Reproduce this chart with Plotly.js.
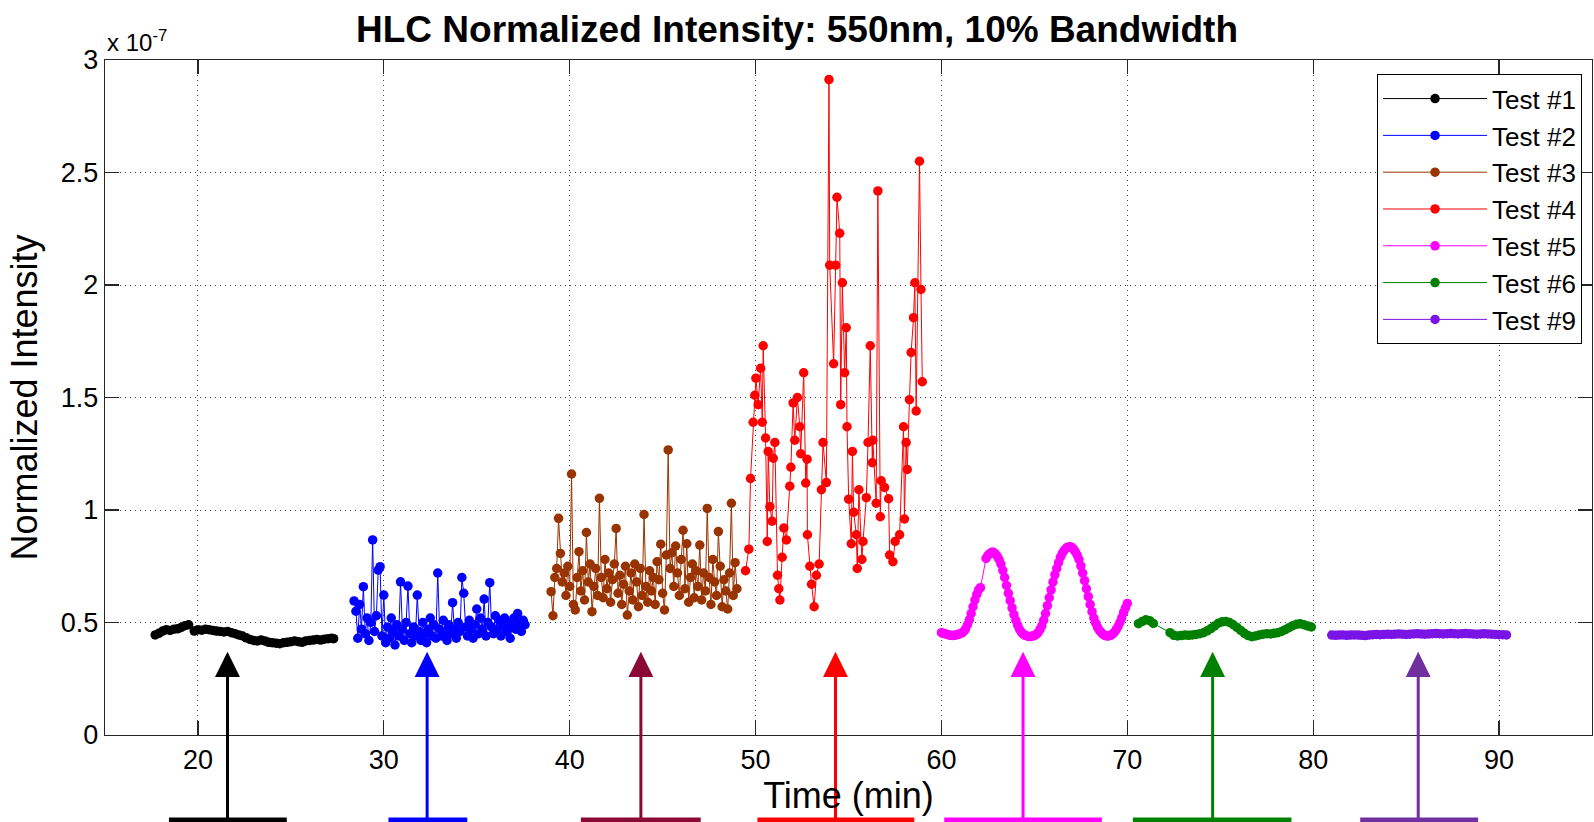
<!DOCTYPE html>
<html>
<head>
<meta charset="utf-8">
<script src="https://cdn.plot.ly/plotly-3.0.1.min.js"></script>
<style>html,body{margin:0;padding:0;background:#fff;}#chart{width:1594px;height:822px;}</style>
</head>
<body>
<div id="chart"></div>
<script>
// ---------- DATA (intensity values in units of 1e-7) ----------
const seriesNames = ['Test #1','Test #2','Test #3','Test #4','Test #5','Test #6','Test #9'];
const seriesColors = ['#000000','#0000ff','#993300','#ff0000','#ff00ff','#008000','#7a14e6'];

const tTest1 = [17.7,17.9,18.1,18.3,18.5,18.7,18.9,19.1,19.3,19.5,19.8,20.0,20.2,20.4,20.6,20.8,21.0,21.2,21.4,21.6,21.8,22.0,22.2,22.4,22.6,22.8,23.0,23.2,23.4,23.6,23.8,24.0,24.2,24.4,24.6,24.8,25.0,25.2,25.4,25.6,25.8,26.0,26.2,26.4,26.6,26.8,27.0,27.2,27.3];
const vTest1 = [0.445,0.452,0.462,0.468,0.465,0.470,0.472,0.478,0.486,0.490,0.462,0.468,0.466,0.470,0.468,0.465,0.462,0.460,0.458,0.460,0.455,0.450,0.445,0.440,0.432,0.425,0.420,0.418,0.422,0.418,0.412,0.410,0.408,0.406,0.410,0.412,0.415,0.418,0.415,0.412,0.418,0.420,0.422,0.425,0.422,0.426,0.428,0.430,0.428];

const tTest2 = [28.4,28.5,28.6,28.7,28.8,28.9,29.0,29.1,29.2,29.3,29.4,29.5,29.6,29.7,29.8,29.9,
  30.0,30.1,30.2,30.3,30.4,30.5,30.6,30.7,30.8,30.9,
  31.0,31.1,31.2,31.3,31.4,31.5,31.6,31.7,31.8,31.9,
  32.0,32.1,32.2,32.3,32.4,32.5,32.6,32.7,32.8,32.9,
  33.0,33.1,33.2,33.3,33.4,33.5,33.6,33.7,33.8,33.9,
  34.0,34.1,34.2,34.3,34.4,34.5,34.6,34.7,34.8,34.9,
  35.0,35.1,35.2,35.3,35.4,35.5,35.6,35.7,35.8,35.9,
  36.0,36.1,36.2,36.3,36.4,36.5,36.6,36.7,36.8,36.9,
  37.0,37.1,37.2,37.3,37.4,37.5,37.6];
const vTest2 = [0.596,0.55,0.43,0.58,0.47,0.659,0.45,0.52,0.42,0.50,0.867,0.46,0.53,0.733,0.748,0.44,
  0.622,0.41,0.48,0.43,0.52,0.46,0.40,0.49,0.44,0.681,
  0.47,0.42,0.50,0.662,0.45,0.41,0.48,0.44,0.622,0.46,
  0.42,0.50,0.45,0.41,0.47,0.52,0.44,0.49,0.43,0.72,
  0.47,0.44,0.51,0.46,0.42,0.49,0.45,0.588,0.47,0.43,
  0.50,0.46,0.70,0.63,0.48,0.44,0.51,0.47,0.43,0.49,
  0.56,0.45,0.52,0.47,0.604,0.44,0.50,0.677,0.48,0.45,
  0.53,0.47,0.51,0.44,0.49,0.52,0.46,0.50,0.43,0.48,
  0.52,0.47,0.54,0.50,0.46,0.51,0.49];

const tTest3 = [39.0,39.1,39.2,39.3,39.4,39.5,39.6,39.7,39.8,39.9,
  40.0,40.1,40.2,40.3,40.4,40.5,40.6,40.7,40.8,40.9,
  41.0,41.1,41.2,41.3,41.4,41.5,41.6,41.7,41.8,41.9,
  42.0,42.1,42.2,42.3,42.4,42.5,42.6,42.7,42.8,42.9,
  43.0,43.1,43.2,43.3,43.4,43.5,43.6,43.7,43.8,43.9,
  44.0,44.1,44.2,44.3,44.4,44.5,44.6,44.7,44.8,44.9,
  45.0,45.1,45.2,45.3,45.4,45.5,45.6,45.7,45.8,45.9,
  46.0,46.1,46.2,46.3,46.4,46.5,46.6,46.7,46.8,46.9,
  47.0,47.1,47.2,47.3,47.4,47.5,47.6,47.7,47.8,47.9,
  48.0,48.1,48.2,48.3,48.4,48.5,48.6,48.7,48.8,48.9,49.0];
const vTest3 = [0.637,0.530,0.70,0.74,0.963,0.807,0.68,0.72,0.62,0.75,
  0.66,1.16,0.58,0.556,0.70,0.815,0.64,0.73,0.60,0.90,
  0.68,0.76,0.548,0.66,0.74,0.62,1.052,0.70,0.61,0.78,
  0.65,0.72,0.59,0.69,0.76,0.918,0.63,0.71,0.58,0.67,
  0.75,0.533,0.64,0.72,0.60,0.76,0.68,0.57,0.74,0.62,
  0.98,0.66,0.59,0.73,0.64,0.70,0.58,0.77,0.69,0.848,
  0.63,0.556,0.80,1.267,0.74,0.81,0.66,0.84,0.72,0.62,
  0.78,0.91,0.65,0.85,0.59,0.70,0.76,0.61,0.73,0.66,
  0.844,0.60,0.72,0.64,1.007,0.70,0.58,0.78,0.68,0.62,
  0.904,0.75,0.57,0.69,0.64,0.56,0.72,1.03,0.62,0.766,0.65];

const tTest4 = [49.46,49.64,49.73,49.87,49.96,50.02,50.14,50.27,50.36,50.41,50.54,50.63,50.68,50.77,50.89,50.95,
  51.04,51.18,51.25,51.31,51.43,51.52,51.66,51.84,51.90,52.02,52.11,52.25,52.38,52.43,52.59,52.70,52.77,52.79,52.92,
  53.01,53.15,53.27,53.42,53.54,53.63,53.81,53.95,53.99,54.20,54.31,54.38,54.53,54.58,54.67,54.79,54.88,54.92,
  55.01,55.15,55.21,55.28,55.42,55.47,55.56,55.72,55.78,55.96,56.05,56.17,56.28,56.31,56.49,56.58,56.71,56.76,56.94,
  57.16,57.21,57.39,57.51,57.75,57.96,58.01,58.10,58.16,58.28,58.37,58.50,58.57,58.64,58.82,58.90,58.97];
const vTest4 = [0.73,0.826,1.14,1.39,1.51,1.586,1.468,1.63,1.39,1.73,1.32,0.86,1.26,1.015,0.95,1.23,
  1.30,0.71,0.65,0.60,0.79,0.92,0.867,1.106,1.19,1.476,1.31,1.50,1.37,1.25,1.61,1.12,1.226,0.89,0.75,
  0.67,0.57,0.71,0.76,1.09,1.30,1.122,2.913,2.088,1.65,2.088,2.39,2.23,1.468,2.01,1.61,1.81,1.37,
  1.048,0.85,1.26,0.99,0.89,0.74,1.09,0.78,0.86,1.055,1.30,1.73,1.21,1.31,1.03,2.418,0.97,1.13,1.10,
  1.05,0.80,0.77,0.86,0.89,1.37,0.96,1.30,1.18,1.49,1.70,1.855,2.01,1.44,2.55,1.98,1.57];

const tTest5 = [60.0,60.1,60.2,60.3,60.4,60.5,60.6,60.7,60.8,60.9,61.0,61.1,61.2,61.3,61.4,61.5,61.6,61.7,61.8,61.9,62.0,62.1,
  62.4,62.5,62.6,62.7,62.8,62.9,63.0,63.1,63.2,63.3,63.4,63.5,63.6,63.7,63.8,63.9,
  64.0,64.1,64.2,64.3,64.4,64.5,64.6,64.7,64.8,64.9,65.0,65.1,65.2,65.3,65.4,65.5,65.6,65.7,65.8,65.9,
  66.0,66.1,66.2,66.3,66.4,66.5,66.6,66.7,66.8,66.9,67.0,67.1,67.2,67.3,67.4,67.5,67.6,67.7,67.8,67.9,
  68.0,68.1,68.2,68.3,68.4,68.5,68.6,68.7,68.8,68.9,69.0,69.1,69.2,69.3,69.4,69.5,69.6,69.7,69.8,69.9,70.0];
const vTest5 = [0.455,0.452,0.450,0.447,0.445,0.443,0.442,0.443,0.445,0.447,0.450,0.454,0.460,0.472,0.490,0.512,0.540,0.570,0.600,0.625,0.645,0.655,
  0.785,0.798,0.806,0.812,0.812,0.805,0.795,0.780,0.760,0.732,0.700,0.665,0.630,0.597,0.565,0.535,
  0.510,0.488,0.470,0.457,0.448,0.443,0.440,0.438,0.438,0.440,0.442,0.447,0.455,0.468,0.485,0.510,0.540,0.575,0.610,0.645,
  0.680,0.712,0.740,0.766,0.790,0.807,0.820,0.830,0.835,0.837,0.835,0.827,0.815,0.800,0.780,0.752,0.720,0.686,0.650,0.615,
  0.580,0.548,0.520,0.497,0.478,0.465,0.455,0.447,0.442,0.440,0.440,0.443,0.448,0.456,0.468,0.482,0.500,0.521,0.545,0.565,0.585];

const tTest6 = [70.6,70.8,71.0,71.2,71.4,72.3,72.5,72.7,72.9,73.1,73.3,73.5,73.7,73.9,74.1,74.3,74.5,74.7,74.9,75.1,75.3,75.5,75.7,75.9,
  76.1,76.3,76.5,76.7,76.9,77.1,77.3,77.5,77.7,77.9,78.1,78.3,78.5,78.7,78.9,79.1,79.3,79.5,79.7,79.9];
const vTest6 = [0.495,0.505,0.512,0.508,0.496,0.455,0.443,0.440,0.442,0.444,0.443,0.445,0.447,0.450,0.455,0.463,0.473,0.485,0.497,0.503,0.505,0.500,0.490,0.478,
  0.465,0.452,0.442,0.437,0.440,0.445,0.448,0.450,0.449,0.452,0.455,0.460,0.468,0.477,0.486,0.492,0.494,0.490,0.485,0.480];

const tTest9 = [81.0,81.2,81.4,81.6,81.8,82.0,82.2,82.4,82.6,82.8,83.0,83.2,83.4,83.6,83.8,84.0,84.2,84.4,84.6,84.8,85.0,85.2,85.4,85.6,85.8,
  86.0,86.2,86.4,86.6,86.8,87.0,87.2,87.4,87.6,87.8,88.0,88.2,88.4,88.6,88.8,89.0,89.2,89.4,89.6,89.8,90.0,90.2,90.4];
const vTest9 = [0.444,0.443,0.444,0.445,0.443,0.444,0.445,0.444,0.443,0.442,0.444,0.446,0.447,0.446,0.447,0.448,0.447,0.448,0.449,0.448,0.447,0.448,0.449,0.450,0.449,
  0.448,0.449,0.450,0.451,0.450,0.449,0.450,0.451,0.450,0.449,0.450,0.451,0.450,0.449,0.448,0.449,0.450,0.449,0.448,0.447,0.446,0.446,0.445];

// arrows under each test
const arrowTimes  = [21.59, 32.33, 43.83, 54.30, 64.39, 74.59, 85.65];
const arrowColors = ['#000000','#0000ff','#8b0a35','#ff0000','#ff00ff','#008000','#7030a0'];
const barStart    = [18.44, 30.25, 40.60, 50.10, 60.15, 70.30, 82.53];
const barEnd      = [24.78, 34.49, 47.05, 58.54, 68.63, 78.83, 88.87];

const xTickVals = [20,30,40,50,60,70,80,90];
const yTickVals = [0,0.5,1,1.5,2,2.5,3];
const yTickText = ['0','0.5','1','1.5','2','2.5','3'];

// ---------- BUILD ----------
const times = [tTest1,tTest2,tTest3,tTest4,tTest5,tTest6,tTest9];
const vals  = [vTest1,vTest2,vTest3,vTest4,vTest5,vTest6,vTest9];
const FONT = 'Liberation Sans, Arial, Helvetica, sans-serif';

const traces = seriesNames.map((n,i)=>({
  type:'scatter', mode:'lines+markers', name:n,
  x: times[i], y: vals[i],
  line:{color:seriesColors[i], width:1},
  marker:{color:seriesColors[i], size:9.5, line:{width:0}}
}));

const headTop = 0.1234, headBase = 0.0859, shaftBottom = -0.15, barY = -0.1259, halfW = 0.67;
const shapes = [];
arrowTimes.forEach((t,i)=>{
  const c = arrowColors[i];
  shapes.push({type:'path', xref:'x', yref:'paper', layer:'above',
    path:`M ${t},${headTop} L ${t-halfW},${headBase} L ${t+halfW},${headBase} Z`,
    fillcolor:c, line:{width:0}});
  shapes.push({type:'line', xref:'x', yref:'paper', layer:'above',
    x0:t, x1:t, y0:headBase, y1:shaftBottom, line:{color:c, width:3}});
  shapes.push({type:'line', xref:'x', yref:'paper', layer:'above',
    x0:barStart[i], x1:barEnd[i], y0:barY, y1:barY, line:{color:c, width:5}});
});

const axisCommon = {
  showline:true, linecolor:'#262626', linewidth:1.2, mirror:'ticks',
  ticks:'inside', ticklen:14, tickwidth:1.2, tickcolor:'#262626',
  showgrid:true, gridcolor:'#444444', gridwidth:1, griddash:'1px,4px',
  zeroline:false, automargin:false,
  tickfont:{family:FONT, size:27, color:'#000'}
};

const layout = {
  width:1594, height:822,
  margin:{l:105, r:2, t:60, b:87},
  paper_bgcolor:'#ffffff', plot_bgcolor:'#ffffff',
  title:{text:'<b>HLC Normalized Intensity: 550nm, 10% Bandwidth</b>',
    font:{family:FONT, size:37, color:'#000'},
    x:0.5, xref:'container', xanchor:'center', y:0.9647, yref:'container', yanchor:'middle'},
  xaxis:Object.assign({}, axisCommon, {
    range:[15,95], tickvals:xTickVals,
    title:{text:'Time (min)', font:{family:FONT, size:36, color:'#000'}, standoff:8}
  }),
  yaxis:Object.assign({}, axisCommon, {
    range:[0,3], tickvals:yTickVals, ticktext:yTickText,
    title:{text:'Normalized Intensity', font:{family:FONT, size:36, color:'#000'}, standoff:12}
  }),
  showlegend:true,
  legend:{x:0.9933, y:0.979, xanchor:'right', yanchor:'top',
    bgcolor:'#ffffff', bordercolor:'#000000', borderwidth:1,
    font:{family:FONT, size:26, color:'#000'}, itemwidth:104, tracegroupgap:0},
  annotations:[{
    text:'x 10<sup>-7</sup>', xref:'paper', yref:'paper', x:0, y:1.003,
    xanchor:'left', yanchor:'bottom', showarrow:false,
    font:{family:FONT, size:24, color:'#000'}
  }],
  shapes:shapes,
  hovermode:false
};

Plotly.newPlot('chart', traces, layout, {displayModeBar:false, staticPlot:true});
</script>
</body>
</html>
